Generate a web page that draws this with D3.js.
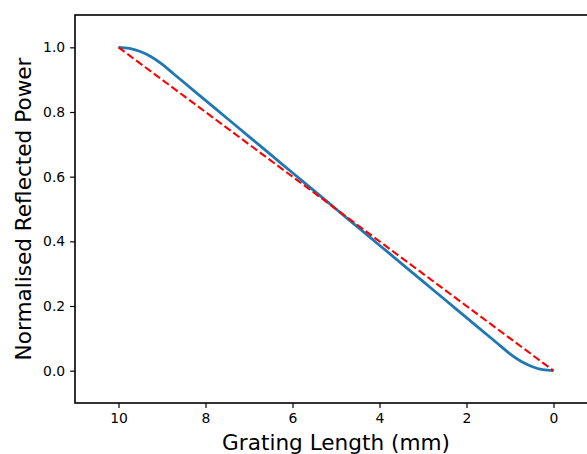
<!DOCTYPE html>
<html>
<head>
<meta charset="utf-8">
<script src="https://d3js.org/d3.v7.min.js"></script>
<style>
  body { margin: 0; background: #fff; }
  text { font-family: "DejaVu Sans", sans-serif; fill: #000; }
</style>
</head>
<body>
<div id="chart"></div>
<script>
var svgWidth = 587;
var svgHeight = 454;

var margin = {
  top: 15,
  right: -10,
  bottom: 51,
  left: 75
};

var width = svgWidth - margin.left - margin.right;
var height = svgHeight - margin.top - margin.bottom;

// grating length (mm) and the reflected power
var lengthMm = [10, 9.75, 9.5, 9.25, 9, 8.75, 8.5, 8, 7.5, 7, 6.5, 6, 5.5, 5,
  4.5, 4, 3.5, 3, 2.5, 2, 1.5, 1.25, 1, 0.75, 0.5, 0.25, 0];
var reflPower = [1.000, 0.997, 0.987, 0.971, 0.948, 0.920, 0.892, 0.836, 0.780,
  0.724, 0.668, 0.612, 0.556, 0.500, 0.444, 0.388, 0.332, 0.276, 0.220, 0.164,
  0.108, 0.080, 0.052, 0.029, 0.013, 0.003, 0.000];

// straight reference line
var refLength = [10, 0];
var refPower = [1, 0];

var xTicks = [10, 8, 6, 4, 2, 0];
var yTicks = [0.0, 0.2, 0.4, 0.6, 0.8, 1.0];

var svg = d3.select("#chart")
  .append("svg")
  .attr("width", svgWidth)
  .attr("height", svgHeight);

var chartGroup = svg.append("g")
  .attr("transform", `translate(${margin.left}, ${margin.top})`);

// x axis runs backwards, 11 on the left to -1 on the right
var xLinear = d3.scaleLinear()
  .domain([11, -1])
  .range([0, width]);
var yLinear = d3.scaleLinear()
  .domain([-0.1, 1.1])
  .range([height, 0]);

var bottomAxis = d3.axisBottom(xLinear)
  .tickValues(xTicks)
  .tickFormat(d3.format("d"))
  .tickSize(4.9)
  .tickPadding(4.9);
var leftAxis = d3.axisLeft(yLinear)
  .tickValues(yTicks)
  .tickFormat(d3.format(".1f"))
  .tickSize(4.9)
  .tickPadding(4.9);

var xAxisG = chartGroup.append("g")
  .attr("transform", `translate(0, ${height})`)
  .call(bottomAxis);
var yAxisG = chartGroup.append("g")
  .call(leftAxis);

[xAxisG, yAxisG].forEach(function(g) {
  g.select(".domain").remove();
  g.selectAll(".tick line").attr("stroke", "#000").attr("stroke-width", 1.2);
  g.selectAll(".tick text")
    .attr("font-size", "13.9px")
    .attr("font-family", "DejaVu Sans")
    .attr("fill", "#000");
});

// clip the lines to the axes box
svg.append("clipPath")
  .attr("id", "plotClip")
  .append("rect")
  .attr("width", width)
  .attr("height", height);

var lineGen = d3.line()
  .x(d => xLinear(d[0]))
  .y(d => yLinear(d[1]))
  .curve(d3.curveMonotoneX);

chartGroup.append("path")
  .datum(lengthMm.map((v, i) => [v, reflPower[i]]))
  .attr("clip-path", "url(#plotClip)")
  .attr("fill", "none")
  .attr("stroke", "#1f77b4")
  .attr("stroke-width", 2.8)
  .attr("stroke-linejoin", "round")
  .attr("d", lineGen);

chartGroup.append("path")
  .datum(refLength.map((v, i) => [v, refPower[i]]))
  .attr("clip-path", "url(#plotClip)")
  .attr("fill", "none")
  .attr("stroke", "red")
  .attr("stroke-width", 2.1)
  .attr("stroke-dasharray", "7.7,3.3")
  .attr("d", d3.line().x(d => xLinear(d[0])).y(d => yLinear(d[1])));

// axes frame
chartGroup.append("rect")
  .attr("width", width)
  .attr("height", height)
  .attr("fill", "none")
  .attr("stroke", "#000")
  .attr("stroke-width", 1.6);

// axis labels
chartGroup.append("text")
  .attr("x", width / 2)
  .attr("y", height + 46.5)
  .attr("text-anchor", "middle")
  .attr("font-size", "21.6px")
  .text("Grating Length (mm)");

chartGroup.append("text")
  .attr("transform", "rotate(-90)")
  .attr("x", -height / 2)
  .attr("y", -75 + 31)
  .attr("text-anchor", "middle")
  .attr("font-size", "21.6px")
  .text("Normalised Reflected Power");
</script>
</body>
</html>
